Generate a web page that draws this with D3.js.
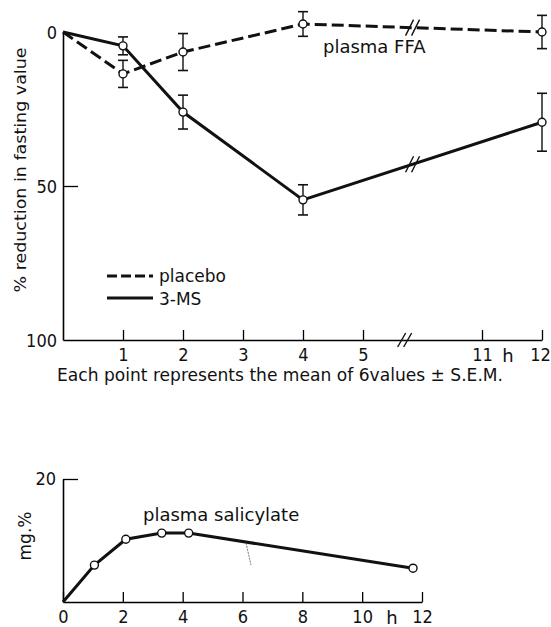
<!DOCTYPE html>
<html>
<head>
<meta charset="utf-8">
<script src="https://cdn.jsdelivr.net/npm/d3@7"></script>
<style>
  body { margin: 0; background: #fff; }
  text { font-family: "DejaVu Sans", sans-serif; fill: #111; }
  .tick text { font-family: "DejaVu Sans Condensed", "DejaVu Sans", sans-serif; }
</style>
</head>
<body>
<div class="chart"></div>
<script>
//top panel: % reduction in fasting plasma FFA
const ffaHours = [0, 1, 2, 4, 12];
const placeboMean = [0, 13.6, 6.5, -2.6, 0];
const placeboSem = [0, 4.4, 6, 4, 5.4];
const msMean = [0, 4.5, 26, 54.5, 29.3];
const msSem = [0, 2.9, 5.5, 4.9, 9.4];
const ffaTicksX = [1, 2, 3, 4, 5, 11, 12];
const ffaTicksY = [0, 50, 100];

//bottom panel: plasma salicylate (mg %)
const salHours = [0, 1.05, 2.1, 3.3, 4.2, 11.7];
const salValues = [0, 6, 10.2, 11.2, 11.2, 5.5];
const salTicksX = [0, 2, 4, 6, 8, 10, 12];
const salTicksY = [20];

const createChart = () => {
    const width = 551, height = 627;

    const svg = d3.select(".chart").append("svg")
        .attr("width", width)
        .attr("height", height);

    // ---------- top panel ----------
    //x has a break between 5 and 11 h, so the scale is piecewise
    const x1 = d3.scaleLinear()
        .domain([0, 5, 11, 12])
        .range([63, 363, 482, 542]);
    const y1 = d3.scaleLinear()
        .domain([0, 100])
        .range([32, 340]);

    const xAxis1 = d3.axisBottom(x1)
        .tickValues(ffaTicksX)
        .tickSizeInner(-10)
        .tickSizeOuter(0)
        .tickPadding(8)
        .tickFormat(d3.format("d"));

    const gx1 = svg.append("g")
        .attr("transform", `translate(0, ${y1(100)})`)
        .call(xAxis1);

    const yAxis1 = d3.axisLeft(y1)
        .tickValues(ffaTicksY)
        .tickSizeInner(-15)
        .tickSizeOuter(0)
        .tickPadding(6);

    const gy1 = svg.append("g")
        .attr("transform", `translate(${x1(0)}, 0)`)
        .call(yAxis1);

    //only the 50 tick has a visible mark
    gy1.selectAll(".tick line").filter(d => d !== 50).remove();

    [gx1, gy1].forEach(g => {
        g.select(".domain").attr("stroke-width", 1.6);
        g.selectAll(".tick line").attr("stroke-width", 1.3);
        g.selectAll("text").attr("font-size", 18).attr("fill", "#111");
    });
    gy1.selectAll("text").attr("dy", "0.35em");
    //keep the last label inside the page
    gx1.selectAll(".tick text").filter(d => d === 12).attr("dx", -2);

    //axis break marks
    const axisBreakX = x1(7.1);
    [-3, 3].forEach(off => {
        svg.append("line")
            .attr("x1", axisBreakX + off - 4).attr("y1", y1(100) + 7)
            .attr("x2", axisBreakX + off + 4).attr("y2", y1(100) - 7)
            .attr("stroke", "#111").attr("stroke-width", 1.4);
    });

    svg.append("text")
        .attr("x", 508).attr("y", 362)
        .attr("text-anchor", "middle")
        .attr("font-size", 18)
        .text("h");

    //error bars
    const drawErrors = (means, sems) => {
        ffaHours.forEach((h, i) => {
            if (sems[i] === 0) return;
            const cx = x1(h);
            const top = y1(means[i] - sems[i]), bottom = y1(means[i] + sems[i]);
            svg.append("line")
                .attr("x1", cx).attr("x2", cx)
                .attr("y1", top).attr("y2", bottom)
                .attr("stroke", "#111").attr("stroke-width", 1.4);
            [top, bottom].forEach(yy => {
                svg.append("line")
                    .attr("x1", cx - 5).attr("x2", cx + 5)
                    .attr("y1", yy).attr("y2", yy)
                    .attr("stroke", "#111").attr("stroke-width", 1.6);
            });
        });
    };
    drawErrors(placeboMean, placeboSem);
    drawErrors(msMean, msSem);

    const line1 = d3.line()
        .x(d => x1(d[0]))
        .y(d => y1(d[1]));

    //placebo - dashed
    svg.append("path")
        .datum(ffaHours.map((h, i) => [h, placeboMean[i]]))
        .attr("d", line1)
        .attr("fill", "none")
        .attr("stroke", "#111")
        .attr("stroke-width", 3)
        .attr("stroke-dasharray", "12,5");

    //3-MS - solid
    svg.append("path")
        .datum(ffaHours.map((h, i) => [h, msMean[i]]))
        .attr("d", line1)
        .attr("fill", "none")
        .attr("stroke", "#111")
        .attr("stroke-width", 3);

    //break marks on the data lines, between 4 and 12 h
    const lineBreakX = x1(7.5);
    const breakY = (means) => {
        const t = (lineBreakX - x1(4)) / (x1(12) - x1(4));
        return y1(means[3] + t * (means[4] - means[3]));
    };
    [breakY(placeboMean), breakY(msMean)].forEach(by => {
        [-3, 3].forEach(off => {
            svg.append("line")
                .attr("x1", lineBreakX + off - 4).attr("y1", by + 8)
                .attr("x2", lineBreakX + off + 4).attr("y2", by - 8)
                .attr("stroke", "#111").attr("stroke-width", 1.4);
        });
    });

    //points
    [placeboMean, msMean].forEach(means => {
        svg.selectAll(null)
            .data(ffaHours.slice(1).map((h, i) => [h, means[i + 1]]))
            .enter().append("circle")
            .attr("cx", d => x1(d[0]))
            .attr("cy", d => y1(d[1]))
            .attr("r", 4)
            .attr("fill", "#fff")
            .attr("stroke", "#111")
            .attr("stroke-width", 1.4);
    });

    svg.append("text")
        .attr("x", 323).attr("y", 53)
        .attr("font-size", 18)
        .text("plasma FFA");

    //legend
    svg.append("line")
        .attr("x1", 107).attr("x2", 153)
        .attr("y1", 276).attr("y2", 276)
        .attr("stroke", "#111").attr("stroke-width", 3)
        .attr("stroke-dasharray", "10,4");
    svg.append("line")
        .attr("x1", 107).attr("x2", 153)
        .attr("y1", 298).attr("y2", 298)
        .attr("stroke", "#111").attr("stroke-width", 3);
    svg.append("text")
        .attr("x", 159).attr("y", 282)
        .attr("font-size", 17)
        .text("placebo");
    svg.append("text")
        .attr("x", 159).attr("y", 305)
        .attr("font-size", 17)
        .text("3-MS");

    svg.append("text")
        .attr("transform", "translate(26, 170) rotate(-90)")
        .attr("text-anchor", "middle")
        .attr("font-size", 16)
        .attr("textLength", 245)
        .attr("lengthAdjust", "spacingAndGlyphs")
        .text("% reduction in fasting value");

    svg.append("text")
        .attr("x", 280).attr("y", 381)
        .attr("text-anchor", "middle")
        .attr("font-size", 17)
        .attr("textLength", 446)
        .attr("lengthAdjust", "spacingAndGlyphs")
        .text("Each point represents the mean of  6values \u00b1 S.E.M.");

    // ---------- bottom panel ----------
    const x2 = d3.scaleLinear()
        .domain([0, 12])
        .range([63, 422]);
    const y2 = d3.scaleLinear()
        .domain([0, 20])
        .range([602, 479]);

    const xAxis2 = d3.axisBottom(x2)
        .tickValues(salTicksX)
        .tickSizeInner(-10)
        .tickSizeOuter(0)
        .tickPadding(8);

    const gx2 = svg.append("g")
        .attr("transform", `translate(0, ${y2(0)})`)
        .call(xAxis2);

    const yAxis2 = d3.axisLeft(y2)
        .tickValues(salTicksY)
        .tickSizeInner(-15)
        .tickSizeOuter(0)
        .tickPadding(7);

    const gy2 = svg.append("g")
        .attr("transform", `translate(${x2(0)}, 0)`)
        .call(yAxis2);

    [gx2, gy2].forEach(g => {
        g.select(".domain").attr("stroke-width", 1.6);
        g.selectAll(".tick line").attr("stroke-width", 1.3);
        g.selectAll("text").attr("font-size", 18).attr("fill", "#111");
    });

    svg.append("text")
        .attr("x", 392).attr("y", 624)
        .attr("text-anchor", "middle")
        .attr("font-size", 18)
        .text("h");

    const line2 = d3.line()
        .x(d => x2(d[0]))
        .y(d => y2(d[1]));

    svg.append("path")
        .datum(salHours.map((h, i) => [h, salValues[i]]))
        .attr("d", line2)
        .attr("fill", "none")
        .attr("stroke", "#111")
        .attr("stroke-width", 3);

    svg.selectAll(null)
        .data(salHours.slice(1).map((h, i) => [h, salValues[i + 1]]))
        .enter().append("circle")
        .attr("cx", d => x2(d[0]))
        .attr("cy", d => y2(d[1]))
        .attr("r", 4)
        .attr("fill", "#fff")
        .attr("stroke", "#111")
        .attr("stroke-width", 1.4);

    //small stray pointer mark under the curve
    svg.append("line")
        .attr("x1", 246).attr("y1", 543)
        .attr("x2", 251).attr("y2", 565)
        .attr("stroke", "#555").attr("stroke-width", 0.8)
        .attr("stroke-dasharray", "2,1");

    svg.append("text")
        .attr("x", 143).attr("y", 521)
        .attr("font-size", 18)
        .text("plasma salicylate");

    svg.append("text")
        .attr("transform", "translate(31, 536) rotate(-90)")
        .attr("text-anchor", "middle")
        .attr("font-size", 17)
        .text("mg.%");
};

createChart();
</script>
</body>
</html>
